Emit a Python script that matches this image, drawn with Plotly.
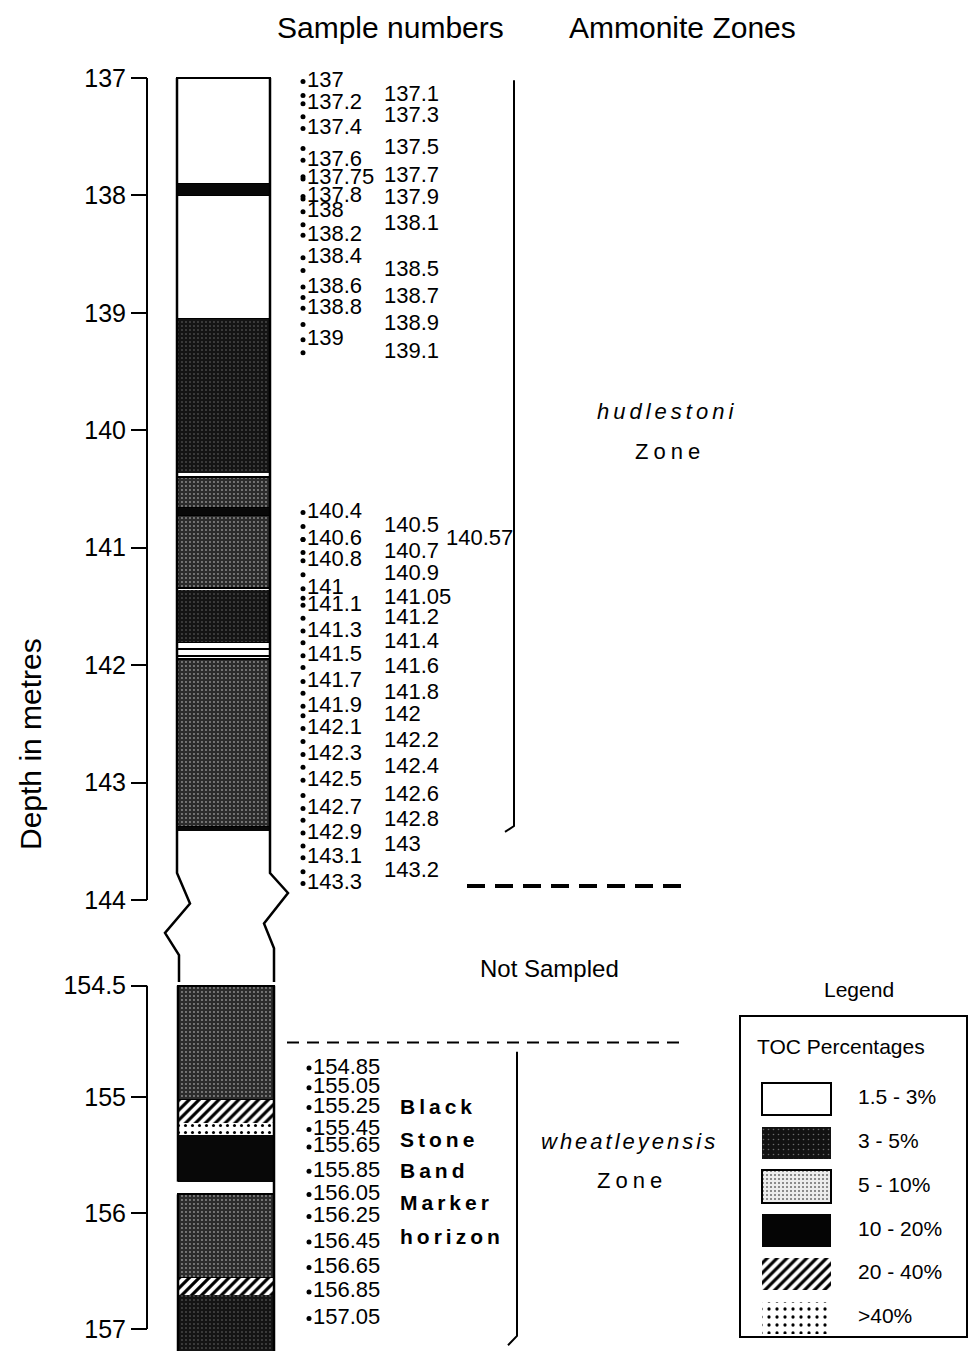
import plotly.graph_objects as go

W, H = 968, 1351
FONT = "Liberation Sans, Arial, Helvetica, sans-serif"

# ---------------- data ----------------
CATS = ["1.5 - 3%", "3 - 5%", "5 - 10%", "10 - 20%", "20 - 40%", ">40%"]

upper_ticks = [137, 138, 139, 140, 141, 142, 143, 144]
lower_tick_vals = [154.04, 155, 156, 157]
lower_tick_text = ["154.5", "155", "156", "157"]

# upper column (depth in metres, TOC class)
upper_top = [137.00, 137.90, 138.00, 139.05, 140.40, 140.66, 140.72, 141.36, 141.80, 141.86, 141.95, 143.38]
upper_bot = [137.90, 138.00, 139.05, 140.36, 140.66, 140.72, 141.34, 141.80, 141.86, 141.92, 143.38, 143.41]
upper_toc = ["1.5 - 3%", "10 - 20%", "1.5 - 3%", "3 - 5%", "5 - 10%", "10 - 20%",
             "5 - 10%", "3 - 5%", "1.5 - 3%", "1.5 - 3%", "5 - 10%", "10 - 20%"]

# lower column
lower_top = [154.04, 155.03, 155.22, 155.33, 155.84, 156.56, 156.71]
lower_bot = [155.03, 155.22, 155.33, 155.73, 156.56, 156.71, 157.19]
lower_toc = ["5 - 10%", "20 - 40%", ">40%", "10 - 20%", "5 - 10%", "20 - 40%", "3 - 5%"]

# sample numbers: label, plotted depth, list column (0 left, 1 right, 2 third)
upper_samples = ["137", "137.1", "137.2", "137.3", "137.4", "137.5", "137.6", "137.7", "137.75",
                 "137.8", "137.9", "138", "138.1", "138.2", "138.4", "138.5", "138.6", "138.7",
                 "138.8", "138.9", "139", "139.1",
                 "140.4", "140.5", "140.57", "140.6", "140.7", "140.8", "140.9", "141", "141.05",
                 "141.1", "141.2", "141.3", "141.4", "141.5", "141.6", "141.7", "141.8", "141.9",
                 "142", "142.1", "142.2", "142.3", "142.4", "142.5", "142.6", "142.7", "142.8",
                 "142.9", "143", "143.1", "143.2", "143.3"]
upper_sample_pos = [137.03, 137.15, 137.22, 137.33, 137.43, 137.60, 137.70, 137.84, 137.86,
                    138.01, 138.03, 138.14, 138.25, 138.34, 138.53, 138.64, 138.78, 138.87,
                    138.96, 139.10, 139.23, 139.34,
                    140.70, 140.82, 140.93, 140.93, 141.04, 141.11, 141.23, 141.35, 141.43,
                    141.49, 141.60, 141.71, 141.81, 141.92, 142.02, 142.14, 142.24, 142.35,
                    142.43, 142.54, 142.65, 142.76, 142.87, 142.98, 143.11, 143.22, 143.32,
                    143.43, 143.54, 143.64, 143.76, 143.86]
upper_sample_col = [0, 1, 0, 1, 0, 1, 0, 1, 0,
                    0, 1, 0, 1, 0, 0, 1, 0, 1,
                    0, 1, 0, 1,
                    0, 1, 2, 0, 1, 0, 1, 0, 1,
                    0, 1, 0, 1, 0, 1, 0, 1, 0,
                    1, 0, 1, 0, 1, 0, 1, 0, 1,
                    0, 1, 0, 1, 0]

lower_samples = ["154.85", "155.05", "155.25", "155.45", "155.65", "155.85", "156.05",
                 "156.25", "156.45", "156.65", "156.85", "157.05"]
lower_sample_pos = [154.75, 154.92, 155.09, 155.28, 155.43, 155.64, 155.84,
                    156.03, 156.25, 156.47, 156.68, 156.91]

marker_horizon_words = ["Black", "Stone", "Band", "Marker", "horizon"]
marker_horizon_pos = [155.08, 155.37, 155.63, 155.91, 156.20]

# ammonite zones: (top, bottom) of the bracket, label depth
hud_zone = [137.02, 143.37]
hud_label_pos = [139.84, 140.18]
whe_zone = [154.61, 157.06]
whe_label_pos = [155.38, 155.72]
upper_boundary_depth = 143.88
lower_boundary_depth = 154.53

# ---------------- layout helpers (pixels) ----------------
def px(p):
    return p / W


def py(p):
    return 1 - p / H


SPLIT = 982
UP_PXM, UP_REF_PX = 117.43, 78      # 137 m at pixel row 78
LO_PXM, LO_REF_PX = 116.0, 1097     # 155 m at pixel row 1097
up_range = [137 + (SPLIT - UP_REF_PX) / UP_PXM, 137 + (0 - UP_REF_PX) / UP_PXM]
lo_range = [155 + (H - LO_REF_PX) / LO_PXM, 155 + (SPLIT - LO_REF_PX) / LO_PXM]

AXIS_X = 147
UP_COL = (177, 270)
LO_COL = (178, 274)
DOT_X_UP, DOT_X_LO = 303, 309
LABEL_X = [307, 384, 446]
SAMPLE_FONT = 22

COLUMN_STYLE = {
    "1.5 - 3%": dict(bg="white", fg="white", shape="", size=8, sol=0.3, lw=2),
    "3 - 5%": dict(bg="#141414", fg="#6e6e6e", shape=".", size=4, sol=0.12, lw=0),
    "5 - 10%": dict(bg="#2c2c2c", fg="#8e8e8e", shape=".", size=4, sol=0.18, lw=2),
    "10 - 20%": dict(bg="#080808", fg="#080808", shape="", size=8, sol=0.3, lw=0),
    "20 - 40%": dict(bg="white", fg="black", shape="/", size=7, sol=0.45, lw=0),
    ">40%": dict(bg="white", fg="black", shape=".", size=7, sol=0.15, lw=0),
}
LEGEND_STYLE = {
    "1.5 - 3%": dict(bg="white", fg="white", shape="", size=8, sol=0.3, lw=2),
    "3 - 5%": dict(bg="#121212", fg="#6a6a6a", shape=".", size=5, sol=0.08, lw=0),
    "5 - 10%": dict(bg="#ececec", fg="#6a6a6a", shape=".", size=4, sol=0.2, lw=2),
    "10 - 20%": dict(bg="#050505", fg="#050505", shape="", size=8, sol=0.3, lw=0),
    "20 - 40%": dict(bg="white", fg="black", shape="/", size=7, sol=0.45, lw=0),
    ">40%": dict(bg="white", fg="black", shape=".", size=8, sol=0.13, lw=0),
}


def marker_for(st):
    m = dict(color=st["bg"], line=dict(color="black", width=st["lw"]))
    if st["shape"]:
        m["pattern"] = dict(shape=st["shape"], fgcolor=st["fg"], bgcolor=st["bg"],
                            size=st["size"], solidity=st["sol"], fillmode="replace")
    return m


fig = go.Figure()


def add_column(tops, bots, tocs, col, yaxis):
    xc = (col[0] + col[1]) / 2
    wd = col[1] - col[0]
    for cat in CATS:
        idx = [i for i, c in enumerate(tocs) if c == cat]
        if not idx:
            continue
        fig.add_trace(go.Bar(
            x=[xc] * len(idx), base=[tops[i] for i in idx],
            y=[bots[i] - tops[i] for i in idx], width=wd,
            marker=marker_for(COLUMN_STYLE[cat]), xaxis="x", yaxis=yaxis,
            showlegend=False, hoverinfo="skip"))


add_column(upper_top, upper_bot, upper_toc, UP_COL, "y")
add_column(lower_top, lower_bot, lower_toc, LO_COL, "y2")


def line(xs, ys, yaxis, width=2, dash=None):
    fig.add_trace(go.Scatter(x=xs, y=ys, mode="lines", xaxis="x", yaxis=yaxis,
                             line=dict(color="black", width=width, dash=dash),
                             showlegend=False, hoverinfo="skip"))


# column sides with the break symbol
line([UP_COL[0], UP_COL[0], 190, 165, 179, 179],
     [137.0, 143.77, 144.03, 144.28, 144.47, up_range[0]], "y", width=2.5)
line([UP_COL[1], UP_COL[1], 288, 264, 274, 274],
     [137.0, 143.77, 143.94, 144.20, 144.41, up_range[0]], "y", width=2.5)
line([LO_COL[0], LO_COL[0], None, LO_COL[0], LO_COL[0]],
     [lower_top[0], lower_bot[3], None, lower_top[4], lo_range[0]], "y2", width=2.5)
line([LO_COL[1], LO_COL[1]], [lower_top[0], lo_range[0]], "y2", width=2.5)

# depth brackets
line([AXIS_X, AXIS_X], [upper_ticks[0], upper_ticks[-1]], "y")
line([AXIS_X, AXIS_X], [lower_tick_vals[0], lower_tick_vals[-1]], "y2")

# ammonite zone brackets
line([514, 514, 505], [hud_zone[0], hud_zone[1], hud_zone[1] + 0.05], "y")
line([517, 517, 508], [whe_zone[0], whe_zone[1], whe_zone[1] + 0.08], "y2")
line([467, 686], [upper_boundary_depth] * 2, "y", width=4, dash="18px,10px")
line([287, 686], [lower_boundary_depth] * 2, "y2", width=2, dash="12px,8px")

# sample dots and numbers
fig.add_trace(go.Scatter(x=[DOT_X_UP] * len(upper_sample_pos), y=upper_sample_pos,
                         mode="markers", marker=dict(color="black", size=5),
                         xaxis="x", yaxis="y", showlegend=False, hoverinfo="skip"))
for c in range(3):
    idx = [i for i, k in enumerate(upper_sample_col) if k == c]
    fig.add_trace(go.Scatter(
        x=[LABEL_X[c]] * len(idx), y=[upper_sample_pos[i] for i in idx],
        text=[upper_samples[i] for i in idx], mode="text", textposition="middle right",
        textfont=dict(family=FONT, size=SAMPLE_FONT, color="black"),
        xaxis="x", yaxis="y", showlegend=False, hoverinfo="skip", cliponaxis=False))

fig.add_trace(go.Scatter(x=[DOT_X_LO] * len(lower_sample_pos), y=lower_sample_pos,
                         mode="markers", marker=dict(color="black", size=5),
                         xaxis="x", yaxis="y2", showlegend=False, hoverinfo="skip"))
fig.add_trace(go.Scatter(x=[DOT_X_LO + 4] * len(lower_sample_pos), y=lower_sample_pos,
                         text=lower_samples, mode="text", textposition="middle right",
                         textfont=dict(family=FONT, size=SAMPLE_FONT, color="black"),
                         xaxis="x", yaxis="y2", showlegend=False, hoverinfo="skip",
                         cliponaxis=False))

annotations = []
for word, d in zip(marker_horizon_words, marker_horizon_pos):
    annotations.append(dict(x=398, y=d, xref="x", yref="y2", xanchor="left", yanchor="middle",
                            showarrow=False,
                            text=f'<span style="letter-spacing:4px"><b>{word}</b></span>',
                            font=dict(family=FONT, size=21, color="black")))


def ann(x, y, text, size, xref="paper", yref="paper", **kw):
    d = dict(x=x, y=y, xref=xref, yref=yref, text=text, showarrow=False,
             xanchor="center", yanchor="middle", font=dict(family=FONT, size=size, color="black"))
    d.update(kw)
    annotations.append(d)


ann(667, hud_label_pos[0], '<span style="letter-spacing:4px"><i>hudlestoni</i></span>', 22, "x", "y")
ann(670, hud_label_pos[1], '<span style="letter-spacing:5px">Zone</span>', 22, "x", "y")
ann(629, whe_label_pos[0], '<span style="letter-spacing:3px"><i>wheatleyensis</i></span>', 22, "x", "y2")
ann(632, whe_label_pos[1], '<span style="letter-spacing:5px">Zone</span>', 22, "x", "y2")
ann(px(390), py(28), "Sample numbers", 30)
ann(px(682), py(28), "Ammonite Zones", 30)
ann(px(30), py(744), "Depth in metres", 30, textangle=-90)
ann(px(549), py(968), "Not Sampled", 24)
ann(px(859), py(990), "Legend", 21)

# ---------------- legend panel ----------------
LEG_BOX = (741, 966, 1017, 1336)
ROW0, ROWH = 1099, 43.8
LEG_W = LEG_BOX[1] - LEG_BOX[0]
sw_start = (762 - LEG_BOX[0]) / LEG_W
sw_len = (831 - 762) / LEG_W
lab_x = (858 - LEG_BOX[0]) / LEG_W
for i, cat in enumerate(CATS):
    fig.add_trace(go.Bar(x=[sw_len], base=[sw_start], y=[i], orientation="h", width=0.74,
                         marker=marker_for(LEGEND_STYLE[cat]), xaxis="x3", yaxis="y3",
                         showlegend=False, hoverinfo="skip"))
fig.add_trace(go.Scatter(x=[lab_x] * len(CATS), y=list(range(len(CATS))), text=CATS,
                         mode="text", textposition="middle right",
                         textfont=dict(family=FONT, size=21, color="black"),
                         xaxis="x3", yaxis="y3", showlegend=False, hoverinfo="skip",
                         cliponaxis=False))
ann((755 - LEG_BOX[0]) / LEG_W, (1046 - ROW0) / ROWH, "TOC Percentages", 21,
    "x3", "y3", xanchor="left")

leg_yrange = [(LEG_BOX[3] - ROW0) / ROWH, (LEG_BOX[2] - ROW0) / ROWH]

frame = dict(showline=True, mirror=True, linecolor="black", linewidth=2, ticks="",
             showticklabels=False, showgrid=False, zeroline=False, fixedrange=True)

fig.update_layout(
    width=W, height=H, margin=dict(l=0, r=0, t=0, b=0, pad=0),
    template="none", paper_bgcolor="white", plot_bgcolor="rgba(0,0,0,0)",
    barmode="overlay", bargap=0, showlegend=False, annotations=annotations,
    font=dict(family=FONT, color="black"),
    xaxis=dict(domain=[0, 1], range=[0, W], visible=False, fixedrange=True),
    yaxis=dict(domain=[py(SPLIT), 1], range=up_range, anchor="free", position=px(AXIS_X),
               tickvals=upper_ticks, ticks="outside", ticklen=16, tickwidth=2,
               tickcolor="black", showline=False, showgrid=False, zeroline=False,
               tickfont=dict(family=FONT, size=25, color="black"), automargin=False,
               fixedrange=True),
    yaxis2=dict(domain=[0, py(SPLIT)], range=lo_range, anchor="free", position=px(AXIS_X),
                tickvals=lower_tick_vals, ticktext=lower_tick_text, ticks="outside",
                ticklen=16, tickwidth=2, tickcolor="black", showline=False, showgrid=False,
                zeroline=False, tickfont=dict(family=FONT, size=25, color="black"),
                automargin=False, fixedrange=True),
    xaxis3=dict(domain=[px(LEG_BOX[0]), px(LEG_BOX[1])], range=[0, 1], anchor="y3", **frame),
    yaxis3=dict(domain=[py(LEG_BOX[3]), py(LEG_BOX[2])], range=leg_yrange, anchor="x3",
                **frame),
)

fig.write_html("out.html", config={"displayModeBar": False},
               post_script="document.body.style.margin='0';document.body.style.overflow='hidden';")
